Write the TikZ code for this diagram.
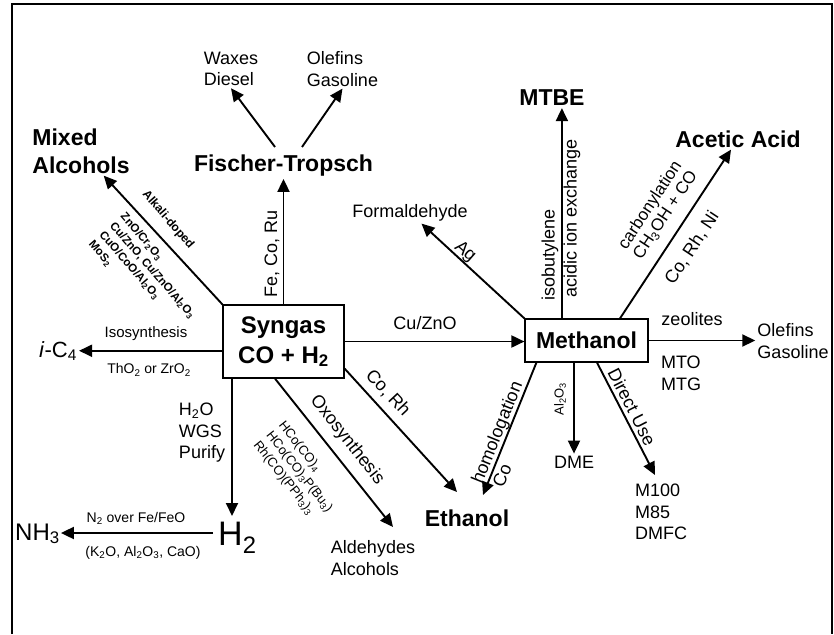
\documentclass[tikz,border=0pt]{standalone}
\usepackage{fontspec}
\setmainfont{Liberation Sans}
\usetikzlibrary{arrows.meta,calc}

\tikzset{
  box/.style={draw, line width=1.2pt, inner sep=0pt},
  arr/.style={line width=1.9pt, -{Triangle[length=13pt,width=12pt]}},
  prod/.style={font=\fontsize{23}{28}\selectfont\bfseries, align=left, inner sep=2pt},
  lbl/.style={font=\fontsize{18}{21.5}\selectfont, align=left, inner sep=2pt},
  cnd/.style={font=\fontsize{14}{17}\selectfont, inner sep=1pt},
  cat/.style={font=\fontsize{11.5}{14}\selectfont\bfseries, align=left, inner sep=1pt},
}

\begin{document}
\begin{tikzpicture}[x=1pt,y=-1pt]
\useasboundingbox (0,0) rectangle (834,634);
\draw[line width=1.2pt] (12,634) -- (12,4) -- (832,4) -- (832,634);

% the two boxes
\node[box, minimum width=121pt, minimum height=73pt, align=center,
  font=\fontsize{24}{30}\selectfont\bfseries] (syngas) at (283.5,341.5) {Syngas\\CO + H\textsubscript{2}};
\node[box, minimum width=123pt, minimum height=43pt,
  font=\fontsize{23}{27}\selectfont\bfseries] (methanol) at (586.5,340.5) {Methanol};

% products
\node[prod] (ft) at (283.5,166) {Fischer-Tropsch};
\node[lbl] (waxes) at (231,69) {Waxes\\Diesel};
\node[lbl] (olefft) at (342.5,69) {Olefins\\Gasoline};
\node[prod] (mixed) at (81,151) {Mixed\\Alcohols};
\node[font=\fontsize{22}{26}\selectfont, anchor=base, inner sep=2pt] (ic4) at (58,357) {\textit{i}-C\textsubscript{4}};
\node[font=\fontsize{34}{40}\selectfont, anchor=base west, inner sep=1pt] (h2) at (217,545) {H\textsubscript{2}};
\node[font=\fontsize{24}{28}\selectfont, anchor=base west, inner sep=1pt] (nh3) at (14,540) {NH\textsubscript{3}};
\node[lbl] (ald) at (373,558) {Aldehydes\\Alcohols};
\node[prod] (ethanol) at (467,518) {Ethanol};
\node[lbl] (formal) at (410,213) {Formaldehyde};
\node[prod] (mtbe) at (552,98) {MTBE};
\node[prod] (acetic) at (738,139) {Acetic Acid};
\node[lbl] (olefm) at (793,341) {Olefins\\Gasoline};
\node[lbl] (dme) at (574,462) {DME};
\node[lbl] (m100) at (661,512) {M100\\M85\\DMFC};
\node[lbl] (mto) at (681,373.5) {MTO\\MTG};

% arrow ends away from node centres
\coordinate (ftl) at (275,147);
\coordinate (ftr) at (302,147);
\coordinate (h2top) at (232,516);
\coordinate (h2left) at (213,533);
\coordinate (oxotip) at (393,527);
\coordinate (corhtip) at (457,492);
\coordinate (homtip) at (483,495);
\coordinate (directtip) at (655,475);
\coordinate (mtbefoot) at ($(methanol.north west)+(37.5,0)$);

% routes from syngas
\draw[arr] (syngas.north) -- (ft.south);
\draw[arr] (ftl) -- (waxes.south);
\draw[arr] (ftr) -- (olefft.south);
\draw[arr] (syngas.north west) -- (mixed);
\draw[arr] (syngas.west |- ic4) -- (ic4);
\draw[arr] (syngas.south -| h2top) -- (h2top);
\draw[arr] (h2left) -- (nh3.east |- h2left);
\draw[arr] ($(syngas.south)+(-8.5,0)$) -- (oxotip);
\draw[arr] ($(syngas.south east)+(0,-10)$) -- (corhtip);
\draw[arr] (syngas.east) -- (methanol.west |- syngas.east);

% routes from methanol
\draw[arr] (mtbefoot) -- (mtbefoot |- mtbe.south);
\draw[arr] (methanol.north west) -- (formal);
\draw[arr] ($(methanol.north)+(33.5,0)$) -- (acetic);
\draw[arr] (methanol.east) -- (methanol.east -| olefm.west);
\draw[arr] ($(methanol.south west)+(12,0)$) -- (homtip);
\draw[arr] (methanol.south -| dme) -- (dme);
\draw[arr] ($(methanol.south)+(10.5,0)$) -- (directtip);

% labels on the routes
\node[lbl, rotate=90] (fecoru) at (272,254) {Fe, Co, Ru};
\node[cat, rotate=-49, font=\fontsize{12}{14}\selectfont\bfseries] (alkali) at (168,220) {Alkali-doped};
\node[cat, rotate=-49] (mixcat) at (147,275) {ZnO/Cr\textsubscript{2}O\textsubscript{3}\\Cu/ZnO, Cu/ZnO/Al\textsubscript{2}O\textsubscript{3}\\CuO/CoO/Al\textsubscript{2}O\textsubscript{3}\\MoS\textsubscript{2}};
\node[cnd, font=\fontsize{15}{18}\selectfont] (iso) at (146,334) {Isosynthesis};
\node[cnd] (thzr) at (149,370) {ThO\textsubscript{2} or ZrO\textsubscript{2}};
\node[lbl] (wgs) at (202,433) {H\textsubscript{2}O\\WGS\\Purify};
\node[cnd] (n2) at (136,518) {N\textsubscript{2} over Fe/FeO};
\node[cnd] (kal) at (143,553) {(K\textsubscript{2}O, Al\textsubscript{2}O\textsubscript{3}, CaO)};
\node[lbl, rotate=-51.6] (oxo) at (347,440) {Oxosynthesis};
\node[cat, rotate=-51.6, font=\fontsize{13}{16}\selectfont] (oxocat) at (299,472) {HCo(CO)\textsubscript{4}\\HCo(CO)\textsubscript{3}P(Bu\textsubscript{3})\\Rh(CO)(PPh\textsubscript{3})\textsubscript{3}};
\node[lbl, rotate=-47] (corh) at (388,393) {Co, Rh};
\node[lbl] (cuzno) at (425,323) {Cu/ZnO};
\node[lbl, rotate=-41] (ag) at (465,252) {Ag};
\node[lbl, rotate=90] (isob) at (550,255) {isobutylene};
\node[lbl, rotate=90] (acidic) at (572,218.5) {acidic ion exchange};
\node[lbl, rotate=56.5, font=\fontsize{17}{18}\selectfont] (carbo) at (658,210) {carbonylation\\CH\textsubscript{3}OH + CO};
\node[lbl, rotate=56.5] (corhni) at (692,248) {Co, Rh, Ni};
\node[lbl] (zeo) at (692,319) {zeolites};
\node[cnd, font=\fontsize{13}{15}\selectfont, rotate=90] (alo) at (560,399) {Al\textsubscript{2}O\textsubscript{3}};
\node[lbl, rotate=68] (homol) at (498,433) {homologation};
\node[lbl, rotate=68] (homco) at (502,476) {Co};
\node[lbl, rotate=-63] (direct) at (632,407) {Direct Use};
\end{tikzpicture}
\end{document}
